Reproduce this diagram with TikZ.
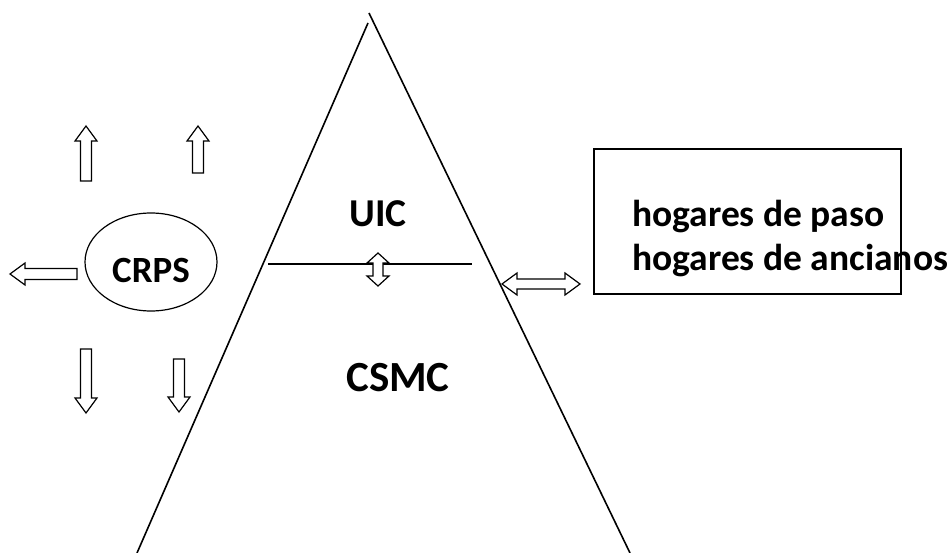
\documentclass[tikz,border=0pt]{standalone}
\usepackage{fontspec}
\setmainfont{Carlito}
\usetikzlibrary{shapes.geometric}
\tikzset{
  thick line/.style={line width=1.6pt, black},
  outline/.style={line width=1.2pt, black, fill=white, line join=miter},
  lbl/.style={font=\fontsize{#1}{#1}\selectfont\bfseries, inner sep=0pt},
  pics/barrow/.style={code={
    \draw[outline] (0,-5.5) -- ({#1-15},-5.5) -- ({#1-15},-11) -- (#1,0)
      -- ({#1-15},11) -- ({#1-15},5.5) -- (0,5.5) -- cycle;
  }},
  pics/darrow/.style 2 args={code={
    \draw[outline] (0,0) -- (#2,-11) -- (#2,-5) -- ({#1-#2},-5) -- ({#1-#2},-11)
      -- (#1,0) -- ({#1-#2},11) -- ({#1-#2},5) -- (#2,5) -- (#2,11) -- cycle;
  }}
}
\begin{document}
\begin{tikzpicture}[x=1pt,y=-1pt]
\useasboundingbox (0,0) rectangle (950,553);
% triangle
\coordinate (apexL) at (368,23);
\coordinate (apexR) at (369,13);
\coordinate (baseL) at (137,553);
\coordinate (baseR) at (630,553);
\draw[thick line] (apexL) -- (baseL);
\draw[thick line] (apexR) -- (baseR);
\coordinate (hl) at (268,264);
\coordinate (hr) at (472,264);
\draw[thick line] (hl) -- (hr);
% labels
\node[lbl=39.5] (uic) at (378,214) {UIC};
\node[lbl=43] (csmc) at (398,378) {CSMC};
% ellipse
\node[ellipse, draw, line width=1.2pt, minimum width=132pt, minimum height=98pt] (crpsshape) at (151,262) {};
\node[lbl=37] (crps) at (151,270) {CRPS};
% box
\node[draw, line width=1.6pt, minimum width=307pt, minimum height=145pt, inner sep=0pt] (box) at (747.5,221.5) {};
\node[lbl=37.5, anchor=base west] (hp) at (632,227) {hogares de paso};
\node[lbl=37.5, anchor=base west] (ha) at (632,271) {hogares de ancianos};
% block arrows
\pic[rotate=90] at (86,181) {barrow=55};
\pic[rotate=90] at (198,173) {barrow=47};
\pic[rotate=180] at (77,274) {barrow=67};
\pic[rotate=-90] at (86,349) {barrow=64};
\pic[rotate=-90] at (179,359) {barrow=53};
\pic[rotate=-90] at (378,253) {darrow={33}{10}};
\pic at (502,284) {darrow={78}{15}};
\end{tikzpicture}
\end{document}
